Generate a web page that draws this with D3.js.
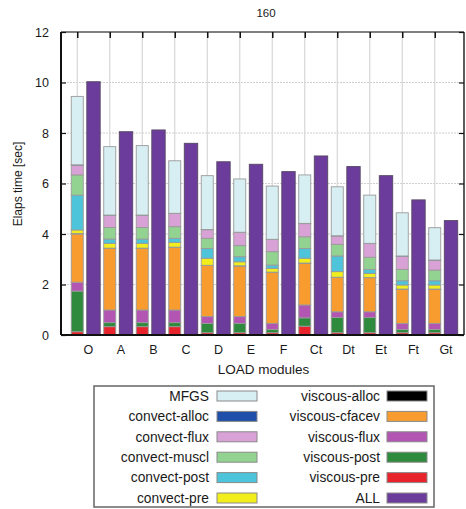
<!DOCTYPE html>
<html>
<head>
<meta charset="utf-8">
<script src="https://cdn.jsdelivr.net/npm/d3@7/dist/d3.min.js"></script>
<style>
  html, body { margin: 0; padding: 0; background: #fff; }
  svg { display: block; font-family: "Liberation Sans", Arial, sans-serif; }
</style>
</head>
<body>
<svg id="chart" width="466" height="509"></svg>
<script>
// Elapsed time per LOAD module, broken down by routine (seconds)
const categories = ["O", "A", "B", "C", "D", "E", "F", "Ct", "Dt", "Et", "Ft", "Gt"];

const viscousPre    = [0.13, 0.33, 0.33, 0.33, 0.09, 0.09, 0.09, 0.35, 0.09, 0.09, 0.09, 0.09];
const viscousPost   = [1.61, 0.16, 0.16, 0.16, 0.37, 0.37, 0.13, 0.33, 0.60, 0.60, 0.13, 0.13];
const viscousFlux   = [0.35, 0.50, 0.50, 0.50, 0.27, 0.27, 0.24, 0.51, 0.23, 0.23, 0.24, 0.24];
const viscousCfacev = [1.91, 2.44, 2.44, 2.48, 2.02, 2.00, 2.02, 1.65, 1.36, 1.35, 1.35, 1.35];
const viscousAlloc  = [0.02, 0.01, 0.01, 0.01, 0.01, 0.01, 0.01, 0.01, 0.01, 0.01, 0.01, 0.01];
const convectPre    = [0.14, 0.19, 0.19, 0.19, 0.28, 0.16, 0.15, 0.19, 0.22, 0.16, 0.16, 0.16];
const convectPost   = [1.38, 0.17, 0.17, 0.16, 0.39, 0.20, 0.13, 0.39, 0.62, 0.16, 0.17, 0.17];
const convectMuscl  = [0.80, 0.46, 0.46, 0.46, 0.40, 0.44, 0.53, 0.46, 0.46, 0.48, 0.45, 0.42];
const convectFlux   = [0.38, 0.48, 0.48, 0.52, 0.34, 0.52, 0.48, 0.52, 0.33, 0.54, 0.52, 0.39];
const convectAlloc  = [0.02, 0.01, 0.01, 0.01, 0.01, 0.01, 0.01, 0.01, 0.01, 0.01, 0.01, 0.01];
const mfgs          = [2.71, 2.71, 2.75, 2.08, 2.13, 2.11, 2.11, 1.92, 1.94, 1.91, 1.71, 1.28];
const allTotal      = [10.03, 8.05, 8.12, 7.59, 6.86, 6.76, 6.47, 7.09, 6.67, 6.31, 5.35, 4.53];

const yTicks = [0, 2, 4, 6, 8, 10, 12];

// stacking order, bottom to top
const series = [
  { key: "viscous-pre",    values: viscousPre,    color: "#e8232b" },
  { key: "viscous-post",   values: viscousPost,   color: "#2e8b3d" },
  { key: "viscous-flux",   values: viscousFlux,   color: "#b356b3" },
  { key: "viscous-cfacev", values: viscousCfacev, color: "#f89c30" },
  { key: "viscous-alloc",  values: viscousAlloc,  color: "#000000" },
  { key: "convect-pre",    values: convectPre,    color: "#f2ee1e" },
  { key: "convect-post",   values: convectPost,   color: "#4dc4da" },
  { key: "convect-muscl",  values: convectMuscl,  color: "#93d392" },
  { key: "convect-flux",   values: convectFlux,   color: "#d9a2d6" },
  { key: "convect-alloc",  values: convectAlloc,  color: "#1f4fa8" },
  { key: "MFGS",           values: mfgs,          color: "#d7eef3" }
];
const allColor = "#6c3c9c";

// legend layout order (two columns)
const legendLeft  = ["MFGS", "convect-alloc", "convect-flux", "convect-muscl", "convect-post", "convect-pre"];
const legendRight = ["viscous-alloc", "viscous-cfacev", "viscous-flux", "viscous-post", "viscous-pre", "ALL"];

const svg = d3.select("#chart");
const plot = { left: 61, right: 464, top: 32, bottom: 335 };

const x = d3.scaleLinear().domain([-0.5, 11.9]).range([plot.left, plot.right]);
const y = d3.scaleLinear().domain([0, 12]).range([plot.bottom, plot.top]);

// build stacked rows
const rows = categories.map((c, i) => {
  const r = { cat: c, i };
  series.forEach(s => { r[s.key] = s.values[i]; });
  return r;
});
const stacked = d3.stack().keys(series.map(s => s.key))(rows);
const colorOf = Object.fromEntries(series.map(s => [s.key, s.color]));
colorOf["ALL"] = allColor;

const textColor = "#1a1a1a";

// title
svg.append("text")
  .attr("x", 266).attr("y", 17)
  .attr("text-anchor", "middle")
  .attr("font-size", 11.5)
  .attr("fill", textColor)
  .text("160");

// grid
const grid = svg.append("g");
grid.selectAll("line.hg")
  .data(yTicks.filter(t => t > 0 && t < 12))
  .join("line")
  .attr("x1", plot.left).attr("x2", plot.right)
  .attr("y1", d => y(d)).attr("y2", d => y(d))
  .attr("stroke", "#cfcfcf").attr("stroke-width", 1)
  .attr("stroke-dasharray", "2,1");
grid.selectAll("line.vg")
  .data(categories.map((c, i) => i))
  .join("line")
  .attr("x1", d => x(d)).attr("x2", d => x(d))
  .attr("y1", plot.top).attr("y2", plot.bottom)
  .attr("stroke", "#d6d6d6").attr("stroke-width", 1.2);

// stacked bars
const stackW = x(0.37) - x(0);
const allW = x(0.41) - x(0);
svg.append("g").selectAll("g")
  .data(stacked)
  .join("g")
  .attr("fill", d => colorOf[d.key])
  .selectAll("rect")
  .data(d => d)
  .join("rect")
  .attr("x", d => x(d.data.i) - stackW / 2)
  .attr("width", stackW)
  .attr("y", d => y(d[1]))
  .attr("height", d => Math.max(0, y(d[0]) - y(d[1])))
  .attr("stroke", "#9a9a9a")
  .attr("stroke-width", 0.9);

// ALL bars
svg.append("g").selectAll("rect")
  .data(allTotal)
  .join("rect")
  .attr("x", (d, i) => x(i + 0.5) - allW / 2)
  .attr("width", allW)
  .attr("y", d => y(d))
  .attr("height", d => y(0) - y(d))
  .attr("fill", allColor)
  .attr("stroke", "#5a4a6a")
  .attr("stroke-width", 1);

// frame
svg.append("line").attr("x1", plot.left).attr("x2", plot.right)
  .attr("y1", plot.top).attr("y2", plot.top)
  .attr("stroke", "#555").attr("stroke-width", 1.6);
svg.append("line").attr("x1", plot.right).attr("x2", plot.right)
  .attr("y1", plot.top).attr("y2", plot.bottom)
  .attr("stroke", "#333").attr("stroke-width", 1.6);
svg.append("line").attr("x1", plot.left).attr("x2", plot.right)
  .attr("y1", plot.bottom).attr("y2", plot.bottom)
  .attr("stroke", "#111").attr("stroke-width", 2);
svg.append("line").attr("x1", plot.left).attr("x2", plot.left)
  .attr("y1", plot.top).attr("y2", plot.bottom)
  .attr("stroke", "#111").attr("stroke-width", 2);

// y axis (ticks pointing inward)
const yAxis = d3.axisLeft(y).tickValues(yTicks).tickFormat(d3.format("d")).tickSize(-5).tickPadding(12);
const gy = svg.append("g").attr("transform", `translate(${plot.left},0)`).call(yAxis);
gy.select(".domain").remove();
gy.selectAll(".tick line").attr("stroke", "#111").attr("stroke-width", 1.2);
gy.selectAll(".tick text").attr("font-size", 12.5).attr("fill", textColor)
  .attr("font-family", "'Liberation Sans', Arial, sans-serif");

// mirrored y ticks on the right
const yAxisR = d3.axisRight(y).tickValues(yTicks).tickFormat("").tickSize(-5);
const gyr = svg.append("g").attr("transform", `translate(${plot.right},0)`).call(yAxisR);
gyr.select(".domain").remove();
gyr.selectAll(".tick line").attr("stroke", "#111").attr("stroke-width", 1.2);

// x ticks on top edge, inward
const xAxisTop = d3.axisTop(x).tickValues(categories.map((c, i) => i)).tickFormat("").tickSize(-6);
const gxt = svg.append("g").attr("transform", `translate(0,${plot.top})`).call(xAxisTop);
gxt.select(".domain").remove();
gxt.selectAll(".tick line").attr("stroke", "#111").attr("stroke-width", 1.5);

// x category labels
const xAxis = d3.axisBottom(x).tickValues(categories.map((c, i) => i + 0.33))
  .tickFormat((d, i) => categories[i]).tickSize(0).tickPadding(10);
const gx = svg.append("g").attr("transform", `translate(0,${plot.bottom})`).call(xAxis);
gx.select(".domain").remove();
gx.selectAll(".tick text").attr("font-size", 12.5).attr("fill", textColor)
  .attr("font-family", "'Liberation Sans', Arial, sans-serif");

// axis titles
svg.append("text")
  .attr("x", (plot.left + plot.right) / 2 + 1).attr("y", 374)
  .attr("text-anchor", "middle")
  .attr("font-size", 13.5).attr("fill", textColor)
  .text("LOAD modules");
svg.append("text")
  .attr("transform", "translate(22,184) rotate(-90)")
  .attr("text-anchor", "middle")
  .attr("font-size", 12).attr("fill", textColor)
  .text("Elaps time [sec]");

// legend
const lg = svg.append("g");
lg.append("rect")
  .attr("x", 94).attr("y", 386).attr("width", 340).attr("height", 121)
  .attr("fill", "#fff").attr("stroke", "#666").attr("stroke-width", 1.5);

function legendColumn(keys, textRight, swatchX) {
  const rowsG = lg.append("g").selectAll("g")
    .data(keys)
    .join("g")
    .attr("transform", (d, i) => `translate(0,${396 + i * 20.4})`);
  rowsG.append("text")
    .attr("x", textRight).attr("y", 0).attr("dy", "0.35em")
    .attr("text-anchor", "end")
    .attr("font-size", 13.8).attr("fill", textColor)
    .text(d => d);
  rowsG.append("rect")
    .attr("x", swatchX).attr("y", -5).attr("width", 40).attr("height", 10)
    .attr("fill", d => colorOf[d])
    .attr("stroke", "#8a8a8a").attr("stroke-width", 1);
}
legendColumn(legendLeft, 209, 217);
legendColumn(legendRight, 380, 387);
</script>
</body>
</html>
